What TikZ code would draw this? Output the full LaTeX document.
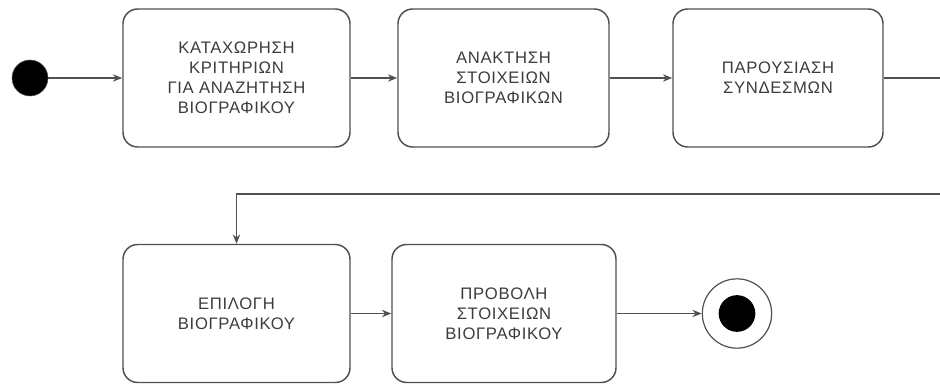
\documentclass[tikz,border=0pt]{standalone}
\usepackage{fontspec}
\setmainfont{Liberation Sans}
\newfontfamily\grfont[LetterSpace=4]{Liberation Sans}
\usetikzlibrary{arrows.meta}
\definecolor{trait}{HTML}{505050}
\definecolor{texte}{HTML}{3C3C3C}
\tikzset{
  etape/.style={draw=trait, line width=1.1pt, rounded corners=11pt,
    minimum height=103.5pt, align=center, text=texte,
    font=\grfont\fontsize{12.5}{15}\selectfont},
  fleche/.style={draw=trait, line width=1pt, -{Stealth[length=7pt,width=5.5pt]}},
}
\begin{document}
\begin{tikzpicture}[x=0.75pt,y=-0.75pt]
\useasboundingbox (0,0) rectangle (940,385);
\clip (0,0) rectangle (940,385);
% debut et fin
\node[circle, fill=black, draw=trait, minimum size=27pt, inner sep=0pt] (debut) at (30,78) {};
\node[circle, draw=trait, line width=0.9pt, minimum size=52pt, inner sep=0pt] (fin) at (737,313.5) {};
\node[circle, fill=black, minimum size=27.5pt, inner sep=0pt] (finpt) at (fin.center) {};
% premiere ligne
\node[etape, minimum width=170.25pt] (kataxorisi) at (236.5,78) {ΚΑΤΑΧΩΡΗΣΗ\\ΚΡΙΤΗΡΙΩΝ\\ΓΙΑ ΑΝΑΖΗΤΗΣΗ\\ΒΙΟΓΡΑΦΙΚΟΥ};
\node[etape, minimum width=158.25pt] (anaktisi) at (503.5,78) {ΑΝΑΚΤΗΣΗ\\ΣΤΟΙΧΕΙΩΝ\\ΒΙΟΓΡΑΦΙΚΩΝ};
\node[etape, minimum width=157.5pt] (parousiasi) at (778,78) {ΠΑΡΟΥΣΙΑΣΗ\\ΣΥΝΔΕΣΜΩΝ};
% deuxieme ligne
\node[etape, minimum width=170.25pt] (epilogi) at (236.5,313.5) {ΕΠΙΛΟΓΗ\\ΒΙΟΓΡΑΦΙΚΟΥ};
\node[etape, minimum width=168pt] (provoli) at (504,313.5) {ΠΡΟΒΟΛΗ\\ΣΤΟΙΧΕΙΩΝ\\ΒΙΟΓΡΑΦΙΚΟΥ};
\coordinate (sortieA) at (960,78);
\coordinate (sortieB) at (960,194);
\draw[fleche] (debut) -- (kataxorisi);
\draw[fleche] (kataxorisi) -- (anaktisi);
\draw[fleche] (anaktisi) -- (parousiasi);
% retour vers la ligne du bas
\draw[fleche] (parousiasi.east) -- (sortieA) -- (sortieB) -| (epilogi.north);
\draw[fleche] (epilogi) -- (provoli);
\draw[fleche] (provoli) -- (fin);
\end{tikzpicture}
\end{document}
